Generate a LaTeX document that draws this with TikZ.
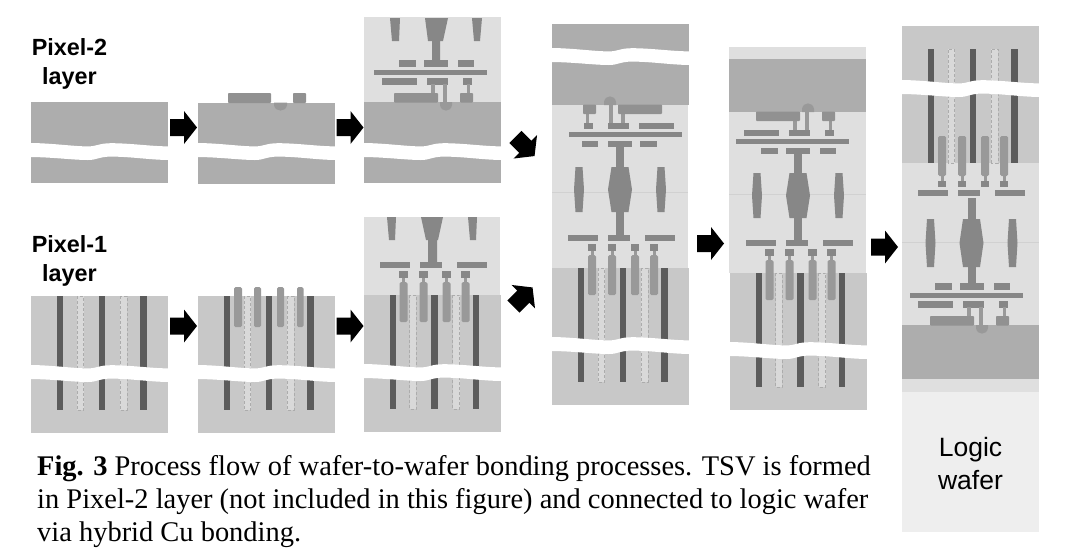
\documentclass[tikz,border=0pt]{standalone}
\usepackage{fontspec}
\setmainfont{Liberation Serif}
\newfontfamily\arialfont{Liberation Sans}
\definecolor{sitwo}{gray}{0.68}
\definecolor{sione}{gray}{0.785}
\definecolor{lightox}{gray}{0.875}
\definecolor{metal}{gray}{0.53}
\definecolor{pinc}{gray}{0.60}
\definecolor{darktsv}{gray}{0.36}
\definecolor{lighttsv}{gray}{0.85}
\definecolor{bumpc}{gray}{0.60}
\definecolor{logicc}{gray}{0.935}
\definecolor{seamc}{gray}{0.82}
\tikzset{
  metalfill/.style={fill=metal},
  padfill/.style={fill=metal!75!sitwo,rounded corners=0.8pt},
  pinfill/.style={fill=pinc,rounded corners=1.5pt},
  darkfill/.style={fill=darktsv},
  tsvlight/.style={fill=lighttsv,draw=gray!65,densely dashed,line width=0.3pt},
  gaplabel/.style={inner sep=0pt,align=center,font=\arialfont\bfseries\fontsize{23.4}{29}\selectfont},
  blockarrow/.style={fill=black},
}
% white wavy break
\newcommand\wavebreak[2]{\begin{scope}[shift={(#1,#2)}]
  \fill[white] (-2,0) .. controls (20,0) and (42,3.4) .. (57,3.4) .. controls (66,3.4) and (68,0.2) .. (80,0.2)
    .. controls (100,0.2) and (120,3.4) .. (139,3.4) -- (139,17) .. controls (120,17) and (100,13.6) .. (80,13.6)
    .. controls (68,13.6) and (66,17) .. (57,17) .. controls (42,17) and (20,14) .. (-2,14) -- cycle;
\end{scope}}
% Pixel-1 silicon with TSVs; #3 = +1 or -1 vertical flip
\newcommand\pixone[3]{\begin{scope}[shift={(#1,#2)},yscale=#3]
  \fill[sione] (0,0) rectangle (137,137);
  \fill[darkfill] (26,0) rectangle (32,114);
  \fill[darkfill] (67.5,0) rectangle (74,114);
  \fill[darkfill] (109,0) rectangle (115.5,114);
  \draw[tsvlight] (46,0) rectangle (52.5,114);
  \draw[tsvlight] (89,0) rectangle (96,114);
\end{scope}}
% Pixel-1 pins, pads
\newcommand\pixonetop[3]{\begin{scope}[shift={(#1,#2)},yscale=#3]
  \foreach \a in {36,56,79,98}{
    \fill[pinfill] (\a,-13) rectangle ++(8,40);
    \fill[pinc] (\a+2.5,-18) rectangle ++(3,6);
    \fill[metalfill] (\a-0.5,-24) rectangle ++(8.5,6.5);
  }
  \fill[metalfill] (16,-33) rectangle (46,-27);
  \fill[metalfill] (56,-33) rectangle (78,-27);
  \fill[metalfill] (93,-33) rectangle (123,-27);
\end{scope}}
% Pixel-2 wiring, pads and bump
\newcommand\pixtwobeol[4]{\begin{scope}[shift={(#1,#2)},xscale=#3,yscale=#4]
  \fill[metalfill] (35,-42) rectangle (52,-35.5);
  \fill[metalfill] (60,-42) rectangle (84,-35.5);
  \fill[metalfill] (94,-42) rectangle (110,-35.5);
  \fill[metalfill] (10,-32) rectangle (123,-27);
  \fill[metalfill] (18,-24) rectangle (53,-17.5);
  \fill[metalfill] (63,-24) rectangle (84,-17.5);
  \fill[metalfill] (99,-24) rectangle (108,-17.5);
  \fill[pinc] (67,-18) rectangle (71,-9);
  \fill[pinc] (79,-18) rectangle (83,1);
  \fill[pinc] (103,-18) rectangle (106,-9);
  \fill[padfill] (30,-9) rectangle (74,0.5);
  \fill[padfill] (96,-9) rectangle (109,0.5);
  \fill[bumpc] (76,0) -- (76,3) .. controls (77,10.5) and (87,10.5) .. (88,3) -- (88,0) -- cycle;
\end{scope}}
% stacked vias with bulges
\newcommand\bulges[6]{%
  \fill[metal] (#1-4,#2) rectangle (#1+4,#6);
  \fill[metal] (#1-8.5,#3) -- (#1+8.5,#3) -- (#1+12,#4) -- (#1+8.5,#5) -- (#1-8.5,#5) -- (#1-12,#4) -- cycle;
  \fill[metal] (#1-44.5,#3) -- (#1-37.5,#3) -- (#1-36,#4) -- (#1-37.5,#5) -- (#1-44.5,#5) -- (#1-46,#4) -- cycle;
  \fill[metal] (#1+37.5,#3) -- (#1+44.5,#3) -- (#1+46,#4) -- (#1+44.5,#5) -- (#1+37.5,#5) -- (#1+36,#4) -- cycle;
}
\newcommand\blockarr[3]{\begin{scope}[shift={(#1,#2)},rotate=#3]
  \fill[blockarrow] (-13.5,-8.5) -- (0.5,-8.5) -- (0.5,-16.5) -- (13.5,0) -- (0.5,16.5) -- (0.5,8.5) -- (-13.5,8.5) -- cycle;
\end{scope}}
\begin{document}
\begin{tikzpicture}[x=1pt,y=-1pt]
\useasboundingbox (0,0) rectangle (1080,558);
\fill[white] (0,0) rectangle (1080,558);

% labels
\node[gaplabel] (lab2) at (69.5,64) {Pixel-2\\layer};
\node[gaplabel] (lab1) at (69.5,260.5) {Pixel-1\\layer};

% --- Pixel-2 row
\fill[sitwo] (31,102) rectangle (168,183);
\wavebreak{31}{143}
\fill[sitwo] (198,102.5) rectangle (335,183.5);
\wavebreak{198}{143}
\fill[padfill] (228,93) rectangle (271,103);
\fill[padfill] (293,93) rectangle (306,103);
\fill[bumpc] (274,102.5) -- (274,105) .. controls (275,112.5) and (286,112.5) .. (287,105) -- (287,102.5) -- cycle;

\fill[lightox] (364,17) rectangle (501,102);
\fill[sitwo] (364,102) rectangle (501,183);
\wavebreak{364}{143}
\fill[metal] (390,18) -- (400,18) -- (399,41) -- (392,41) -- cycle;
\fill[metal] (425,18) -- (448,18) -- (443,41) -- (440,41) -- (440,61) -- (432,61) -- (432,41) -- (428,41) -- cycle;
\fill[metal] (472,18) -- (482,18) -- (480,41) -- (474,41) -- cycle;
\pixtwobeol{364}{102}{1}{1}

% --- Pixel-1 row
\pixone{31}{296}{1}
\wavebreak{31}{365}
\pixone{198}{296}{1}
\wavebreak{198}{365}
\foreach \a/\b in {36/8,56/7,79/7,99/6.5}{\fill[pinfill] (198+\a,287) rectangle ++(\b,40);}

\fill[lightox] (363.5,217) rectangle (500,295);
\pixone{363.5}{295}{1}
\wavebreak{363.5}{364}
\pixonetop{363.5}{295}{1}
\fill[metal] (387,217) -- (396,217) -- (395,240) -- (389,240) -- cycle;
\fill[metal] (421,217) -- (443,217) -- (438,240) -- (437,240) -- (437,263) -- (428,263) -- (428,240) -- (426,240) -- cycle;
\fill[metal] (468,217) -- (477,217) -- (476,240) -- (470,240) -- cycle;

% --- bonded stack 1
\fill[lightox] (552,105) rectangle (688,268);
\draw[seamc,line width=0.5pt] (552,192) -- (688,192);
\fill[sitwo] (552,24) rectangle (688.5,105);
\wavebreak{552}{48}
\pixtwobeol{692}{105}{-1}{-1}
\bulges{620}{145}{167}{189.5}{212}{235}
\pixone{552}{268}{1}
\wavebreak{552}{337}
\pixonetop{552}{268}{1}

% --- bonded stack 2
\fill[lightox] (729,47) rectangle (866,59);
\fill[lightox] (729,112) rectangle (866,273);
\draw[seamc,line width=0.5pt] (729,194) -- (866,194);
\fill[sitwo] (729,59) rectangle (866,112);
\pixtwobeol{726}{112}{1}{-1}
\bulges{798}{153}{173}{195.5}{218}{241}
\pixone{729.5}{273}{1}
\wavebreak{729.5}{342}
\pixonetop{729.5}{273}{1}

% --- final stack
\fill[lightox] (902,163) rectangle (1039,325);
\draw[seamc,line width=0.5pt] (902,242) -- (1039,242);
\pixone{902}{163}{-1}
\wavebreak{902}{80}
\pixonetop{902}{163}{-1}
\bulges{971.5}{198}{219}{243}{267}{285}
\fill[sitwo] (902,325) rectangle (1039,379);
\pixtwobeol{900}{325}{1}{1}
\fill[lightox] (902,379) rectangle (1039,392);
\fill[logicc] (902,392) rectangle (1039,532);
\node[inner sep=0pt,align=center,font=\arialfont\fontsize{26.5}{33}\selectfont] (logic) at (970.5,464) {Logic\\wafer};

% --- arrows
\blockarr{183.5}{127.5}{0}
\blockarr{350}{127.5}{0}
\blockarr{183.5}{326}{0}
\blockarr{350}{326}{0}
\blockarr{525}{146.5}{-45}
\blockarr{523}{297}{45}
\blockarr{710.5}{243.5}{0}
\blockarr{884.5}{247}{0}

% caption
\node[anchor=north west,inner sep=0pt,align=left,font=\fontsize{28.45}{33}\selectfont] (cap) at (37,455.5)
 {\textbf{Fig. 3} Process flow of wafer-to-wafer bonding processes. TSV is formed\\
  in Pixel-2 layer (not included in this figure) and connected to logic wafer\\
  via hybrid Cu bonding.};
\end{tikzpicture}
\end{document}
